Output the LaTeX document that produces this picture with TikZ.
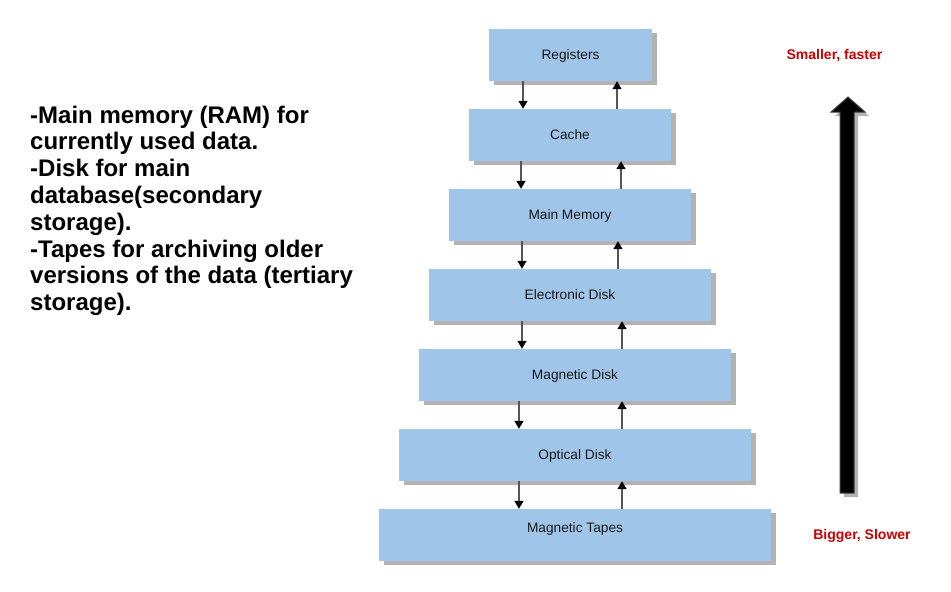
\documentclass[tikz,border=0pt]{standalone}
\usepackage{fontspec}
\setmainfont{Liberation Sans}
\usetikzlibrary{arrows.meta,shadows}
\definecolor{boxblue}{HTML}{9FC5E8}
\definecolor{shadowgray}{HTML}{B3B3B3}
\definecolor{arrgray}{HTML}{555555}
\definecolor{labred}{HTML}{CC0000}
\begin{document}
\begin{tikzpicture}[x=1pt,y=-1pt,
  level/.style={fill=boxblue, draw=none, minimum height=52pt, inner sep=0pt,
    text height=10pt, text depth=1pt, text=black!90,
    font=\fontsize{13.7}{16}\selectfont,
    general shadow={fill=shadowgray, shadow xshift=5pt, shadow yshift=-4pt}},
  flow/.style={draw=arrgray, line width=1.3pt,
    -{Triangle[length=8pt,width=9pt,color=black]}},
  redlab/.style={text=labred, font=\fontsize{14}{16}\selectfont\bfseries, inner sep=0pt, anchor=base},
  notes/.style={font=\fontsize{24}{26.8}\selectfont\bfseries, align=left, inner sep=0pt, anchor=north west}
]
\useasboundingbox[fill=white] (0,0) rectangle (951,592);

% levels
\node[level, minimum width=163pt] (reg)   at (570.5,55)  {Registers};
\node[level, minimum width=202pt] (cache) at (570,135)   {Cache};
\node[level, minimum width=242pt] (mm)    at (570,215)   {Main Memory};
\node[level, minimum width=282pt] (ed)    at (570,295)   {Electronic Disk};
\node[level, minimum width=312pt] (md)    at (575,375)   {Magnetic Disk};
\node[level, minimum width=352pt] (od)    at (575,455)   {Optical Disk};
\node[level, minimum width=392pt, text depth=15pt] (mt) at (575,535) {Magnetic Tapes};

% column positions of connectors
\coordinate (d1) at (523,0);  \coordinate (u1) at (617,0);
\coordinate (d2) at (521,0);  \coordinate (u2) at (621,0);
\coordinate (d3) at (522,0);  \coordinate (u3) at (618,0);
\coordinate (d4) at (522,0);  \coordinate (u4) at (622,0);
\coordinate (d5) at (519,0);  \coordinate (u5) at (622,0);
\coordinate (d6) at (519,0);  \coordinate (u6) at (622,0);

\draw[flow] (reg.south -| d1) -- (cache.north -| d1);
\draw[flow] (cache.north -| u1) -- (reg.south -| u1);
\draw[flow] (cache.south -| d2) -- (mm.north -| d2);
\draw[flow] (mm.north -| u2) -- (cache.south -| u2);
\draw[flow] (mm.south -| d3) -- (ed.north -| d3);
\draw[flow] (ed.north -| u3) -- (mm.south -| u3);
\draw[flow] (ed.south -| d4) -- (md.north -| d4);
\draw[flow] (md.north -| u4) -- (ed.south -| u4);
\draw[flow] (md.south -| d5) -- (od.north -| d5);
\draw[flow] (od.north -| u5) -- (md.south -| u5);
\draw[flow] (od.south -| d6) -- (mt.north -| d6);
\draw[flow] (mt.north -| u6) -- (od.south -| u6);

% big arrow
\fill[shadowgray] (844,497) -- (844,116) -- (835,116) -- (852,101) -- (869,116) -- (858,116) -- (858,497) -- cycle;
\filldraw[fill=black, draw=black!75, line width=1pt] (840,493) -- (840,112) -- (831,112) -- (848,97) -- (865,112) -- (854,112) -- (854,493) -- cycle;

% labels
\node[redlab] (fast) at (834.5,59) {Smaller, faster};
\node[redlab] (slow) at (862,539) {Bigger, Slower};

\node[notes] (txt) at (30,105.5) {-Main memory (RAM) for\\currently used data.\\-Disk for main\\database(secondary\\storage).\\-Tapes for archiving older\\versions of the data (tertiary\\storage).};
\end{tikzpicture}
\end{document}
